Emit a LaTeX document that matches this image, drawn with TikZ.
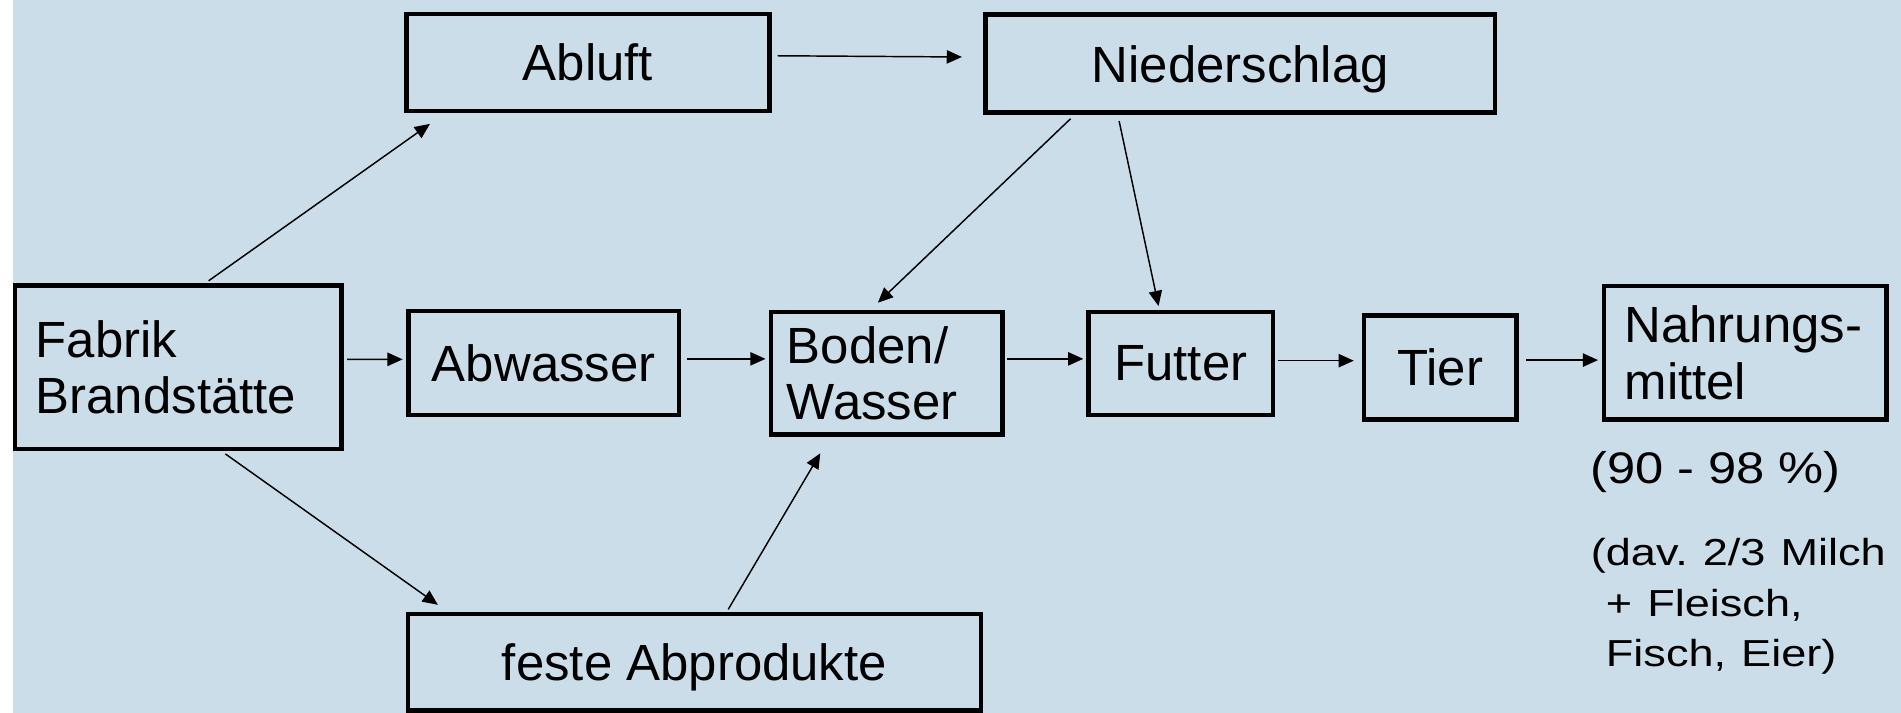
\documentclass[tikz,border=0pt]{standalone}
\usepackage{fontspec}
\usepackage{graphicx}
\setmainfont{Liberation Sans}
\usetikzlibrary{arrows.meta,calc}
\definecolor{bgblue}{RGB}{203,221,233}
\tikzset{
  boxbase/.style={draw=black, line width=3.8pt, inner sep=0pt, font=\fontsize{42}{46.5}\selectfont},
  box/.style={boxbase, text depth=0pt},
  lbox/.style={boxbase, align=left, inner xsep=17pt},
  arr/.style={line width=1.2pt, -{Triangle[length=12.5pt,width=11pt]}},
  note/.style={inner sep=0pt, anchor=base west, align=left}
}
\begin{document}
\frenchspacing
\begin{tikzpicture}[x=1pt,y=-1pt]
\useasboundingbox (0,0) rectangle (1568,588);
\fill[white] (0,0) rectangle (1568,588);
\fill[bgblue] (10.5,0) rectangle (1568,588);

\node[box, minimum width=299pt, minimum height=80pt] (abluft) at (485,51.5) {Abluft};
\node[box, minimum width=420pt, minimum height=81pt] (nieder) at (1023,52.5) {Niederschlag};
\node[lbox, minimum width=269pt, minimum height=135pt, text width=235pt] (fabrik) at (147,302.8) {Fabrik\\Brandstätte};
\node[box, minimum width=223pt, minimum height=86pt] (abwasser) at (448.5,299.4) {Abwasser};
\node[lbox, inner xsep=13pt, minimum width=190.8pt, minimum height=101pt, text width=164.8pt] (boden) at (731.4,307.9) {Boden/\\Wasser};
\node[box, minimum width=152pt, minimum height=85pt] (futter) at (974,299.8) {Futter};
\node[box, minimum width=126pt, minimum height=86pt] (tier) at (1188,303) {Tier};
\node[lbox, minimum width=233pt, minimum height=110pt, text width=199pt] (nahrung) at (1439.5,291) {Nahrungs-\\mittel};
\node[box, minimum width=472.5pt, minimum height=79.5pt] (feste) at (572.8,546.3) {feste Abprodukte};

\node[note, font=\fontsize{36.5}{42}\selectfont] (pct) at (1311.5,399) {\scalebox{1.145}[1]{(90 - 98 \%)}};
\node[note, font=\fontsize{31}{41.6}\selectfont, text width=260pt] (dav) at (1312,466.5)
  {\scalebox{1.2}[1]{(dav. 2/3 Milch}\\\scalebox{1.2}[1]{\ + Fleisch,}\\\scalebox{1.2}[1]{\ Fisch, Eier)}};

\draw[arr] ($(fabrik.north west)+(161.5,-1.8)$) -- ($(abluft.south west)+(21,8.8)$);
\draw[arr] ($(abluft.east)+(5,-5.5)$) -- ($(nieder.west)+(-17.7,-5.5)$);
\draw[arr] ($(fabrik.east)+(3,-6.4)$) -- ($(abwasser.west)+(-3,-3)$);
\draw[arr] ($(abwasser.east)+(5,-3.4)$) -- ($(boden.west)+(-2.7,-11.9)$);
\draw[arr] ($(boden.east)+(2.2,-11.9)$) -- ($(futter.west)+(-2.6,-3.8)$);
\draw[arr] ($(futter.east)+(2,-2.3)$) -- ($(tier.west)+(-6.5,-5.5)$);
\draw[arr] ($(tier.east)+(6,-6)$) -- ($(nahrung.west)+(-3,6)$);
\draw[arr] ($(nieder.south west)+(72,3)$) -- ($(boden.north west)+(90,-5.8)$);
\draw[arr] ($(nieder.south west)+(112,5)$) -- ($(futter.north west)+(59.5,-3)$);
\draw[arr] ($(fabrik.south west)+(175.3,2.2)$) -- ($(feste.north west)+(26.5,-5.8)$);
\draw[arr] ($(feste.north west)+(266,-2)$) -- ($(boden.south west)+(42.5,13.6)$);
\end{tikzpicture}
\end{document}
